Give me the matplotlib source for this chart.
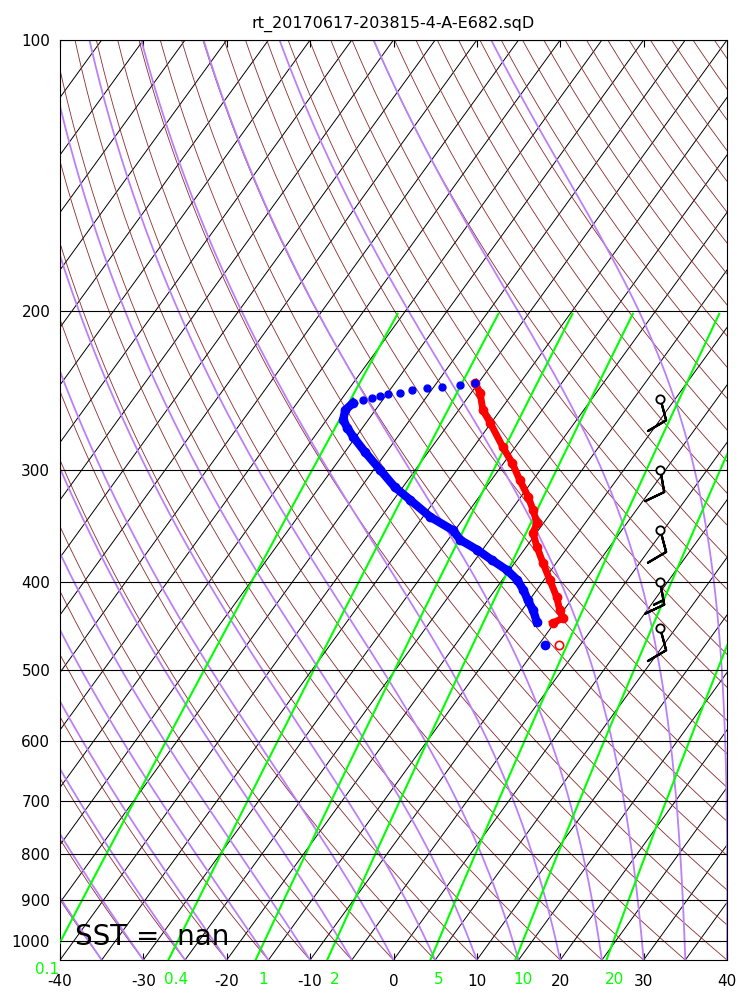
import numpy as np
import matplotlib
matplotlib.use("Agg")
import matplotlib.pyplot as plt
import matplotlib.transforms as mtransforms
from matplotlib.ticker import NullLocator

plt.rcParams['axes.unicode_minus'] = False

title = "rt_20170617-203815-4-A-E682.sqD"
sst_text = "SST =  nan"

# temperature profile (hPa, degC)
temp_p = [240.2, 246.6, 257.5, 266.1, 283.0, 294.7, 307.9, 321.5, 332.4, 343.6,
          352.6, 365.4, 380.6, 397.5, 415.2, 429.2, 438.2, 443.7]
temp_t = [-40.4, -38.9, -37.1, -35.1, -31.5, -29.0, -26.6, -24.1, -22.4, -20.8,
          -20.4, -18.7, -16.6, -14.3, -12.0, -10.5, -9.4, -10.2]

# dew point, sparse upper samples
dewp_top_p = [240.2, 241.5, 242.8, 243.4, 244.7, 246.6, 247.2, 248.5, 249.7, 251.0]
dewp_top_t = [-40.4, -42.0, -44.0, -45.7, -47.3, -48.5, -49.9, -50.7, -51.5, -52.4]

# dew point, dense part
dewp_p = [252.9, 257.5, 264.1, 269.5, 275.8, 286.6, 300.1, 313.4, 324.0, 338.4,
          349.9, 358.9, 368.1, 377.7, 387.6, 397.5, 407.8, 418.4, 429.2, 442.6]
dewp_t = [-53.3, -53.6, -53.0, -51.8, -50.3, -47.6, -44.2, -41.0, -38.0, -34.1,
          -30.3, -28.5, -25.6, -23.0, -20.3, -18.2, -16.6, -15.2, -13.7, -12.2]

# launch point
sfc_p = [469.5]
sfc_t = [-7.5]
sfc_td = [-9.2]

# winds
wind_p = [250, 300, 350, 400, 450]
wind_dir = [165, 170, 165, 170, 165]
wind_kt = [10, 10, 10, 15, 10]

isobars = [100, 200, 300, 400, 500, 600, 700, 800, 900, 1000]
xticks = [-40, -30, -20, -10, 0, 10, 20, 30, 40]
isotherms = np.arange(-120, 45, 5)
dry_t0 = np.arange(-40, 205, 5)
moist_t0 = np.arange(-40, 45, 5)
mixratios = [0.1, 0.4, 1, 2, 5, 10, 20]
mixlabels = ["0.1", "0.4", "1", "2", "5", "10", "20"]

P0 = 1050.
PTOP = 100.
Rd, Cp, eps = 287.04, 1005.7, 0.622
Lv = 2.1e6   # latent heat used for the background moist adiabats


def esat(tc):
    return 6.112 * np.exp(17.67 * tc / (tc + 243.5))


def td_from_w(w, p):
    e = w * p / (622. + w)
    l = np.log(e / 6.112)
    return 243.5 * l / (17.67 - l)


def moist_lapse(tk, p):
    es = esat(tk - 273.15)
    rs = eps * es / (p - es)
    return (Rd * tk + Lv * rs) / (p * (Cp + Lv * Lv * rs * eps / (Rd * tk * tk)))


def moist_adiabat(t0, pres):
    tk = t0 + 273.15
    out = [tk]
    for i in range(1, len(pres)):
        dp = pres[i] - pres[i - 1]
        k1 = moist_lapse(tk, pres[i - 1])
        k2 = moist_lapse(tk + k1 * dp, pres[i])
        tk = tk + 0.5 * (k1 + k2) * dp
        out.append(tk)
    return np.array(out) - 273.15


fig = plt.figure(figsize=(7.5, 10), dpi=100)
ax = fig.add_axes([60 / 750., 40 / 1000., 667 / 750., 920 / 1000.])
ax.set_yscale('log')
ax.set_xlim(-40, 40)
ax.set_ylim(P0, PTOP)

# skew-T transform: 45 degrees in axes space
skew = ax.transScale + (ax.transLimits + mtransforms.Affine2D().skew_deg(45, 0)) + ax.transAxes

pres = np.logspace(np.log10(P0), np.log10(PTOP), 300)

for t in isotherms:
    ax.plot([t, t], [P0, PTOP], color='k', lw=0.7, transform=skew, zorder=1)

for t0 in dry_t0:
    tt = (t0 + 273.15) * (pres / P0) ** (Rd / Cp) - 273.15
    ax.plot(tt, pres, color='#8b2c2c', lw=0.6, transform=skew, zorder=1)

for t0 in moist_t0:
    ax.plot(moist_adiabat(t0, pres), pres, color='#bb80f8', lw=1.3, transform=skew, zorder=2)

pw = pres[pres >= 200]
for w, lab in zip(mixratios, mixlabels):
    ax.plot(td_from_w(w, pw), pw, color='#00ff00', lw=1.5, transform=skew, zorder=3)
    x0 = td_from_w(w, P0)
    if x0 < -40:
        # label left of the frame sits a little higher
        tr = mtransforms.offset_copy(skew, fig=fig, x=-4, y=-10, units='dots')
    else:
        tr = mtransforms.offset_copy(skew, fig=fig, x=8, y=-20, units='dots')
    ax.text(x0, P0, lab, color='#00ff00', fontsize=11, ha='center',
            va='center', transform=tr, clip_on=False)

for p in isobars:
    ax.axhline(p, color='k', lw=0.8, zorder=4)

# sounding
ax.plot(temp_t, temp_p, '-o', color='red', lw=5, ms=6, mew=1, transform=skew, zorder=6)
ax.plot(dewp_t, dewp_p, '-o', color='blue', lw=6, ms=6, transform=skew, zorder=6)
ax.plot(dewp_top_t, dewp_top_p, 'o', color='blue', ms=5, transform=skew, zorder=6)
ax.plot(sfc_t, sfc_p, 'o', mfc='none', mec='red', ms=6, mew=1.2, transform=skew, zorder=6)
ax.plot(sfc_td, sfc_p, 'o', color='blue', ms=6, transform=skew, zorder=6)

# wind barbs on the right
wtrans = mtransforms.blended_transform_factory(ax.transAxes, ax.transData)
wd = np.radians(wind_dir)
u = -np.array(wind_kt) * np.sin(wd)
v = -np.array(wind_kt) * np.cos(wd)
bx = [0.9] * len(wind_p)
ax.barbs(bx, wind_p, u, v, transform=wtrans, length=5.7, lw=1.6, color='k',
         sizes=dict(height=0.9, width=0.5, spacing=0.2), zorder=7)
ax.plot(bx, wind_p, 'o', mfc='white', mec='k', ms=6, mew=1.3, transform=wtrans, zorder=8)

ax.text(0.0225, 0.0163, sst_text, fontsize=20, transform=ax.transAxes, va='baseline', zorder=9)

ax.set_xlim(-40, 40)
ax.set_ylim(P0, PTOP)
ax.set_xticks(xticks)
ax.set_xticklabels([str(x) for x in xticks])
ax.yaxis.set_minor_locator(NullLocator())
ax.set_yticks(isobars)
ax.set_yticklabels([str(p) for p in isobars])
ax.tick_params(axis='x', direction='in', top=True, labelsize=11, pad=10, length=5)
ax.tick_params(axis='y', direction='in', labelsize=11, pad=7, length=0)
ax.set_title(title, fontsize=11.5, pad=9)

fig.savefig("out.png", dpi=100)
